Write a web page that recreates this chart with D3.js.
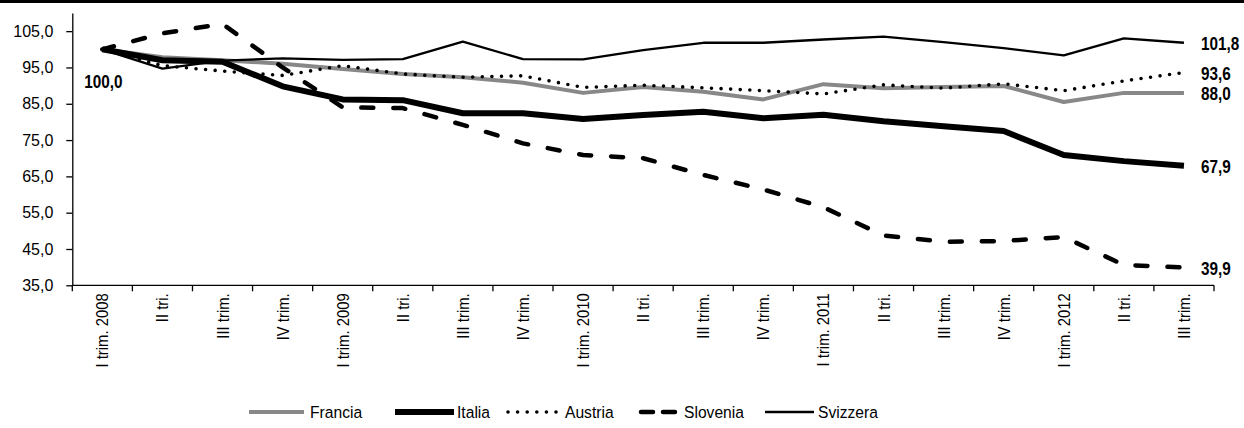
<!DOCTYPE html>
<html>
<head>
<meta charset="utf-8">
<script src="https://cdn.jsdelivr.net/npm/d3@7"></script>
<style>
  html, body { margin: 0; padding: 0; background: #fff; }
  svg { display: block; }
</style>
</head>
<body>
<svg id="chart" width="1244" height="428"></svg>
<script>
const categories = ["I trim. 2008","II tri.","III trim.","IV trim.","I trim. 2009","II tri.","III trim.","IV trim.","I trim. 2010","II tri.","III trim.","IV trim.","I trim. 2011","II tri.","III trim.","IV trim.","I trim. 2012","II tri.","III trim."];
const francia  = [100, 97.8, 97.0, 96.0, 94.6, 93.2, 92.3, 90.8, 88.0, 89.6, 88.3, 86.2, 90.4, 89.3, 89.6, 89.9, 85.5, 88.0, 88.0];
const italia   = [100, 97.0, 96.6, 89.8, 86.2, 86.0, 82.4, 82.4, 80.8, 81.9, 82.8, 81.0, 82.0, 80.2, 78.8, 77.5, 70.9, 69.2, 67.9];
const austria  = [100, 95.5, 94.0, 92.8, 95.5, 93.2, 92.3, 92.7, 89.5, 90.1, 89.4, 88.6, 87.7, 90.2, 89.3, 90.5, 88.6, 91.3, 93.6];
const slovenia = [100, 104.4, 107.0, 95.0, 84.0, 83.8, 79.2, 74.1, 70.9, 70.0, 65.4, 61.4, 56.5, 48.7, 47.0, 47.2, 48.3, 40.6, 39.9];
const svizzera = [100, 94.7, 96.9, 97.5, 97.1, 97.3, 102.1, 97.3, 97.2, 99.8, 101.8, 101.8, 102.7, 103.5, 102.0, 100.3, 98.3, 103.0, 101.8];
const yTicks = [35, 45, 55, 65, 75, 85, 95, 105];
const seriesNames = ["Francia", "Italia", "Austria", "Slovenia", "Svizzera"];

const series = [
  {name: "Francia",  values: francia,  color: "#888888", width: 4,   dash: null,    cap: "butt"},
  {name: "Italia",   values: italia,   color: "#000000", width: 6,   dash: null,    cap: "butt"},
  {name: "Austria",  values: austria,  color: "#000000", width: 3.6, dash: "0 9.6", cap: "round"},
  {name: "Slovenia", values: slovenia, color: "#000000", width: 4.5, dash: "12 20", cap: "round"},
  {name: "Svizzera", values: svizzera, color: "#000000", width: 2.3, dash: null,    cap: "butt"}
];

const svg = d3.select("#chart");
const FONT = "'Liberation Sans', Arial, sans-serif";
const fmt = v => v.toFixed(1).replace(".", ",");

// top rule
svg.append("rect").attr("x", 0).attr("y", 0).attr("width", 1244).attr("height", 3).attr("fill", "#000");

const x = d3.scaleBand().domain(d3.range(categories.length)).range([72.3, 1214]).paddingInner(0).paddingOuter(0);
const y = d3.scaleLinear().domain([35, 110]).range([285.3, 13]);
const cx = i => x(i) + x.bandwidth() / 2;

// Y axis
const yAxis = d3.axisLeft(y).tickValues(yTicks)
  .tickFormat(fmt)
  .tickSize(6).tickSizeOuter(0).tickPadding(13);
const gy = svg.append("g").attr("transform", "translate(72.3,0)").call(yAxis);
gy.select(".domain").attr("stroke", "#000").attr("stroke-width", 1.3);
gy.selectAll(".tick line").attr("stroke", "#000").attr("stroke-width", 1.3);
gy.selectAll(".tick text").attr("font-family", FONT).attr("font-size", 16).attr("fill", "#000");

// X axis (ticks at category boundaries)
const gx = svg.append("g");
gx.append("line").attr("x1", x.range()[0]).attr("x2", x.range()[1])
  .attr("y1", y(35)).attr("y2", y(35)).attr("stroke", "#000").attr("stroke-width", 1.3);
const bounds = d3.range(categories.length + 1).map(i => i < categories.length ? x(i) : x.range()[1]);
gx.selectAll("line.tk").data(bounds).join("line").attr("class", "tk")
  .attr("x1", d => d).attr("x2", d => d)
  .attr("y1", y(35)).attr("y2", y(35) + 6).attr("stroke", "#000").attr("stroke-width", 1.3);
gx.selectAll("text").data(categories).join("text")
  .attr("transform", (d, i) => `translate(${cx(i) + 6},${y(35) + 8}) rotate(-90) scale(0.9,1)`)
  .attr("text-anchor", "end")
  .attr("font-family", FONT).attr("font-size", 16.5).attr("fill", "#000")
  .text(d => d);

// lines
const line = d3.line().x((d, i) => cx(i)).y(d => y(d)).curve(d3.curveLinear);
svg.append("g").selectAll("path").data(series).join("path")
  .attr("d", s => line(s.values))
  .attr("fill", "none")
  .attr("stroke", s => s.color)
  .attr("stroke-width", s => s.width)
  .attr("stroke-dasharray", s => s.dash)
  .attr("stroke-linecap", s => s.cap)
  .attr("stroke-linejoin", "round");

// end labels (condensed bold)
const last = categories.length - 1;
const labelOffsets = {Francia: 1, Italia: 1, Austria: 1.4, Slovenia: 2, Svizzera: 1};
svg.append("g").selectAll("text").data(series).join("text")
  .attr("transform", s => `translate(${cx(last) + 17},${y(s.values[last]) + labelOffsets[s.name]}) scale(0.85,1)`)
  .attr("dominant-baseline", "central")
  .attr("font-family", FONT).attr("font-weight", "bold").attr("font-size", 18)
  .attr("fill", "#000")
  .text(s => fmt(s.values[last]));

// start label
svg.append("text")
  .attr("transform", `translate(${cx(0) - 18},${y(francia[0]) + 33}) scale(0.85,1)`)
  .attr("dominant-baseline", "central")
  .attr("font-family", FONT).attr("font-weight", "bold").attr("font-size", 18)
  .attr("fill", "#000")
  .text(fmt(francia[0]));

// legend
const legendPos = [
  {lx: 249, lw: 55, tx: 310},
  {lx: 395, lw: 59, tx: 457},
  {lx: 508, lw: 51, tx: 565},
  {lx: 641, lw: 39, tx: 684},
  {lx: 765, lw: 49, tx: 818}
];
const ly = 412;
const lg = svg.append("g").selectAll("g").data(series).join("g");
lg.append("line")
  .attr("x1", (s, i) => legendPos[i].lx).attr("x2", (s, i) => legendPos[i].lx + legendPos[i].lw)
  .attr("y1", ly).attr("y2", ly)
  .attr("stroke", s => s.color).attr("stroke-width", s => s.width)
  .attr("stroke-dasharray", s => s.name === "Slovenia" ? "12 10" : s.dash)
  .attr("stroke-linecap", s => s.cap);
lg.append("text")
  .attr("transform", (s, i) => `translate(${legendPos[i].tx},${ly}) scale(0.92,1)`)
  .attr("dominant-baseline", "central")
  .attr("font-family", FONT).attr("font-size", 17).attr("fill", "#000")
  .text(s => s.name);
</script>
</body>
</html>
